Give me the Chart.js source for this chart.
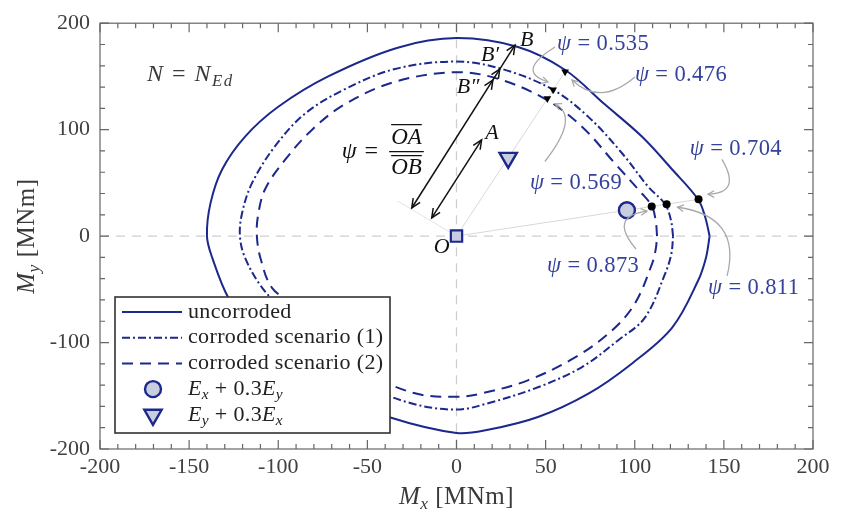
<!DOCTYPE html>
<html>
<head>
<meta charset="utf-8">
<script src="https://cdn.jsdelivr.net/npm/chart.js@4.4.0/dist/chart.umd.min.js"></script>
<style>
  html, body { margin: 0; padding: 0; background: #fff; }
  canvas { display: block; }
</style>
</head>
<body>
<canvas id="chart" width="846" height="517"></canvas>
<script>
const SERIF = '"Liberation Serif", "DejaVu Serif", serif';
const BLUE = '#1b288c';
const LABEL_BLUE = '#34429a';
const MARKER_FILL = '#c9cde0';

// Interaction contours Mx-My [MNm] at N = N_Ed, anticlockwise from the +Mx axis
const uncorrodedMx = [142, 139.5, 135.5, 121, 104, 83, 61, 34.5, 0, -33, -72, -100, -118.6, -131.5, -138, -140, -137, -128, -115, -98, -75, -38, 0, 17.7, 45.7, 74, 98.5, 121, 135.5, 140, 142];
const uncorrodedMy = [0, 18, 34.6, 62.6, 93.5, 124, 156, 177.6, 186, 177, 150, 121.5, 93.5, 62.6, 31, 0, -20.5, -58, -88, -118, -145, -170, -185, -182, -170, -148, -119.6, -86, -42, -20, 0];

const scenario1Mx = [121.5, 120.3, 117, 107.4, 93, 74, 53.6, 25.5, 0, -34.5, -62.6, -85, -102, -114.8, -120.3, -121.5, -118.6, -109, -93, -74, -53.6, -25.5, 0, 17.7, 45.7, 70.4, 90.6, 105.7, 117, 120.5, 121.5];
const scenario1My = [0, 15, 30, 46.7, 77.6, 112, 138, 157, 164, 157, 138, 115, 84, 49.5, 21.5, 0, -20.5, -48.6, -77.6, -112, -138, -157, -163, -157, -142, -123, -98, -76.6, -35.5, -17, 0];

const scenario2Mx = [112.5, 111.8, 109.7, 104, 89, 70.4, 49.6, 23.3, 0, -34.5, -62.6, -81, -96, -107.4, -111.4, -112, -110, -103.5, -89, -70.4, -49.6, -23.3, 0, 14.3, 40, 66.5, 87, 100, 109.7, 111.8, 112.5];
const scenario2My = [0, 14, 28, 40, 68, 102.8, 129, 147.7, 154, 145, 124, 100, 72, 44, 18.7, 0, -20.5, -48.6, -68, -102.8, -129, -147.7, -151, -147.7, -135.5, -114, -89, -63.6, -26, -12, 0];

// Seismic load combinations (point A)
const loadMx = [95.6, 29];
const loadMy = [24.3, 73.5];

// psi = OA/OB for: uncorroded, scenario (1), scenario (2)
const psiLoad1 = [0.704, 0.811, 0.873];
const psiLoad2 = [0.476, 0.535, 0.569];

const xTicks = { min: -200, max: 200, step: 50, minor: 10 };
const yTicks = { min: -200, max: 200, step: 100, minor: 20 };

const toXY = (xs, ys) => xs.map((x, i) => ({ x, y: ys[i] }));
// point B on each contour, along the ray O-A
const onContour = (i, psis) => psis.map(p => ({ x: loadMx[i] / p, y: loadMy[i] / p }));

const hitsLoad1 = onContour(0, psiLoad1);
const hitsLoad2 = onContour(1, psiLoad2);

// annotation placement, in MNm
const psiLabelPos = [
  { at: [130.9, 81.3], val: psiLoad1[0] },
  { at: [141.1, -48.6], val: psiLoad1[1] },
  { at: [50.8, -28], val: psiLoad1[2] },
  { at: [100.1, 151.4], val: psiLoad2[0] },
  { at: [56.4, 180.4], val: psiLoad2[1] },
  { at: [41.2, 49.5], val: psiLoad2[2] }
];
const leaders = [
  [[148.9, 72], [160.2, 40.2], [141.1, 39.3]],
  [[151.8, -37.4], [160.2, 18.7], [124, 27.1]],
  [[100.7, -12.1], [85, 18.7], [106.9, 23.4]],
  [[100.1, 149.5], [80.5, 121.5], [64.8, 146.7]],
  [[55.3, 177.6], [32.8, 154.2], [51.3, 144.9]],
  [[49.6, 70.1], [69.3, 112.1], [55.3, 124.3]]
];
const arrowOB = { from: [-25.1, 26.4], to: [32.8, 179.4], inner: [0.853, 0.786] };
const arrowOA = { from: [-13.9, 17.1], to: [14.1, 90.4] };

const datasets = [
  { label: 'uncorroded', data: toXY(uncorrodedMx, uncorrodedMy), borderColor: BLUE, borderWidth: 2, tension: 0.35, order: 5 },
  { label: 'corroded scenario (1)', data: toXY(scenario1Mx, scenario1My), borderColor: BLUE, borderWidth: 2, borderDash: [8, 3, 2, 3], tension: 0.35, order: 5 },
  { label: 'corroded scenario (2)', data: toXY(scenario2Mx, scenario2My), borderColor: BLUE, borderWidth: 2, borderDash: [11, 7], tension: 0.35, order: 5 },
  { label: 'ray 1', data: [{ x: 0, y: 0 }, hitsLoad1[0]], borderColor: '#d8d8d8', borderWidth: 1, order: 9 },
  { label: 'ray 2', data: [{ x: 0, y: 0 }, hitsLoad2[0]], borderColor: '#d8d8d8', borderWidth: 1, order: 9 },
  { label: 'B1', data: hitsLoad1, showLine: false, pointRadius: 4, pointBackgroundColor: '#000', pointBorderWidth: 0, order: 1 },
  { label: 'B2', data: hitsLoad2, showLine: false, pointStyle: 'triangle', pointRotation: 180, pointRadius: 4.5, pointBackgroundColor: '#000', pointBorderWidth: 0, order: 1 },
  { label: 'O', data: [{ x: 0, y: 0 }], showLine: false, pointStyle: 'rect', pointRadius: 8, pointBackgroundColor: MARKER_FILL, pointBorderColor: BLUE, pointBorderWidth: 2.2, order: 0 },
  { label: 'E_x + 0.3E_y', data: [{ x: loadMx[0], y: loadMy[0] }], showLine: false, pointStyle: 'circle', pointRadius: 8, pointBackgroundColor: MARKER_FILL, pointBorderColor: BLUE, pointBorderWidth: 2.4, order: 0 },
  { label: 'E_y + 0.3E_x', data: [{ x: loadMx[1], y: loadMy[1] }], showLine: false, pointStyle: 'triangle', pointRotation: 180, pointRadius: 10, pointBackgroundColor: MARKER_FILL, pointBorderColor: BLUE, pointBorderWidth: 2.4, order: 0 }
];
datasets.forEach(d => {
  d.showLine = d.showLine !== false;
  if (d.pointRadius === undefined) d.pointRadius = 0;
  d.fill = false;
});

// rich text: parts = [{ t, it, sub }]
function fontOf(p, size) {
  return (p.it ? 'italic ' : '') + (p.sub ? size * 0.7 : size) + 'px ' + SERIF;
}
function richWidth(ctx, parts, size) {
  return parts.reduce((s, p) => { ctx.font = fontOf(p, size); return s + ctx.measureText(p.t).width; }, 0);
}
function drawRich(ctx, parts, x, y, size, align, color, spacing) {
  ctx.letterSpacing = (spacing || 0) + 'px';
  const total = richWidth(ctx, parts, size);
  let cx = align === 'center' ? x - total / 2 : (align === 'right' ? x - total : x);
  ctx.fillStyle = color;
  ctx.textAlign = 'left';
  ctx.textBaseline = 'middle';
  parts.forEach(p => {
    ctx.font = fontOf(p, size);
    ctx.fillText(p.t, cx, y + (p.sub ? size * 0.28 : 0));
    cx += ctx.measureText(p.t).width;
  });
  ctx.letterSpacing = '0px';
  return total;
}

function arrowHead(ctx, x, y, ang, len, spread) {
  ctx.beginPath();
  ctx.moveTo(x - len * Math.cos(ang - spread), y - len * Math.sin(ang - spread));
  ctx.lineTo(x, y);
  ctx.lineTo(x - len * Math.cos(ang + spread), y - len * Math.sin(ang + spread));
  ctx.stroke();
}

const annotations = {
  id: 'annotations',
  beforeDatasetsDraw(chart) {
    const { ctx, chartArea: a, scales: { x, y } } = chart;
    ctx.save();
    ctx.strokeStyle = '#cfcfcf';
    ctx.lineWidth = 1.3;
    ctx.setLineDash([9, 7]);
    ctx.beginPath();
    ctx.moveTo(a.left, y.getPixelForValue(0));
    ctx.lineTo(a.right, y.getPixelForValue(0));
    ctx.moveTo(x.getPixelForValue(0), a.top);
    ctx.lineTo(x.getPixelForValue(0), a.bottom);
    ctx.stroke();
    ctx.setLineDash([]);
    // construction line through the arrow tails
    ctx.strokeStyle = '#e4e4e4';
    ctx.lineWidth = 1;
    ctx.beginPath();
    ctx.moveTo(x.getPixelForValue(-33), y.getPixelForValue(33));
    ctx.lineTo(x.getPixelForValue(0), y.getPixelForValue(0));
    ctx.stroke();
    ctx.restore();
  },
  afterDatasetsDraw(chart) {
    const { ctx, chartArea: a, scales: { x, y } } = chart;
    const P = (p) => [x.getPixelForValue(p[0]), y.getPixelForValue(p[1])];
    ctx.save();

    // gray leaders from the psi labels
    ctx.strokeStyle = '#a9a9a9';
    ctx.lineWidth = 1.3;
    leaders.forEach(([s, c, e]) => {
      const [sx, sy] = P(s), [cx, cy] = P(c), [ex, ey] = P(e);
      ctx.beginPath();
      ctx.moveTo(sx, sy);
      ctx.quadraticCurveTo(cx, cy, ex, ey);
      ctx.stroke();
      arrowHead(ctx, ex, ey, Math.atan2(ey - cy, ex - cx), 7, 0.5);
    });

    // psi labels
    psiLabelPos.forEach(l => {
      const [lx, ly] = P(l.at);
      drawRich(ctx, [{ t: 'ψ', it: true }, { t: ' = ' }, { t: l.val.toFixed(3) }], lx, ly, 22.5, 'left', LABEL_BLUE, 0.4);
    });

    // OB and OA dimension arrows
    ctx.strokeStyle = '#111';
    ctx.lineWidth = 1.5;
    [arrowOB, arrowOA].forEach(ar => {
      const [x0, y0] = P(ar.from), [x1, y1] = P(ar.to);
      const ang = Math.atan2(y1 - y0, x1 - x0);
      ctx.beginPath();
      ctx.moveTo(x0, y0);
      ctx.lineTo(x1, y1);
      ctx.stroke();
      arrowHead(ctx, x1, y1, ang, 10, 0.42);
      arrowHead(ctx, x0, y0, ang + Math.PI, 10, 0.42);
      (ar.inner || []).forEach(t => arrowHead(ctx, x0 + (x1 - x0) * t, y0 + (y1 - y0) * t, ang, 10, 0.42));
    });

    // point names
    const names = [
      [[{ t: 'B', it: true }], [39.4, 184.4]],
      [[{ t: 'B′', it: true }], [18.8, 170]],
      [[{ t: 'B″', it: true }], [6.5, 140.2]],
      [[{ t: 'A', it: true }], [19.9, 96.3]],
      [[{ t: 'O', it: true }], [-8.3, -10.9]]
    ];
    names.forEach(([parts, at]) => {
      const [nx, ny] = P(at);
      drawRich(ctx, parts, nx, ny, 22, 'center', '#111');
    });

    // N = N_Ed
    const [nx, ny] = P([-173.6, 151.4]);
    drawRich(ctx, [{ t: 'N', it: true }, { t: ' = ' }, { t: 'N', it: true }, { t: 'Ed', it: true, sub: true }], nx, ny, 24, 'left', '#3a3a3a', 1.5);

    // psi = OA / OB
    const [fx, fy] = P([-64.4, 79.4]);
    let cx = fx + drawRich(ctx, [{ t: 'ψ', it: true }, { t: ' = ' }], fx, fy, 24, 'left', '#111', 1) + 3;
    ctx.font = 'italic 23px ' + SERIF;
    const wNum = ctx.measureText('OA').width, wDen = ctx.measureText('OB').width;
    const bw = Math.max(wNum, wDen) + 4;
    ctx.strokeStyle = '#111';
    ctx.lineWidth = 1.2;
    ctx.beginPath();
    ctx.moveTo(cx, fy); ctx.lineTo(cx + bw, fy);
    ctx.moveTo(cx + 2, fy - 27); ctx.lineTo(cx + bw - 2, fy - 27);
    ctx.moveTo(cx + 2, fy + 4); ctx.lineTo(cx + bw - 2, fy + 4);
    ctx.stroke();
    ctx.fillStyle = '#111';
    ctx.textAlign = 'center';
    ctx.textBaseline = 'middle';
    ctx.fillText('OA', cx + bw / 2, fy - 14);
    ctx.fillText('OB', cx + bw / 2, fy + 16);

    // frame with inward ticks on all four sides
    ctx.strokeStyle = '#666';
    ctx.lineWidth = 1.2;
    ctx.strokeRect(a.left, a.top, a.right - a.left, a.bottom - a.top);
    ctx.beginPath();
    for (let v = xTicks.min; v <= xTicks.max; v += xTicks.minor) {
      const px = x.getPixelForValue(v);
      const len = v % xTicks.step === 0 ? 9 : 5;
      ctx.moveTo(px, a.bottom); ctx.lineTo(px, a.bottom - len);
      ctx.moveTo(px, a.top); ctx.lineTo(px, a.top + len);
    }
    for (let v = yTicks.min; v <= yTicks.max; v += yTicks.minor) {
      const py = y.getPixelForValue(v);
      const len = v % yTicks.step === 0 ? 9 : 5;
      ctx.moveTo(a.left, py); ctx.lineTo(a.left + len, py);
      ctx.moveTo(a.right, py); ctx.lineTo(a.right - len, py);
    }
    ctx.stroke();
    ctx.restore();
  },
  afterDraw(chart) {
    const { ctx, chartArea: a } = chart;
    ctx.save();

    // axis titles
    const mid = (a.left + a.right) / 2;
    drawRich(ctx, [{ t: 'M', it: true }, { t: 'x', it: true, sub: true }, { t: ' [MNm]' }], mid, 497, 25, 'center', '#3a3a3a', 0.5);
    ctx.save();
    ctx.translate(27, (a.top + a.bottom) / 2);
    ctx.rotate(-Math.PI / 2);
    drawRich(ctx, [{ t: 'M', it: true }, { t: 'y', it: true, sub: true }, { t: ' [MNm]' }], 0, 0, 25, 'center', '#3a3a3a', 0.5);
    ctx.restore();

    // legend box
    const bx = a.left + 15, by = a.bottom - 152, bw = 275, bh = 136;
    ctx.fillStyle = '#fff';
    ctx.fillRect(bx, by, bw, bh);
    ctx.strokeStyle = '#333';
    ctx.lineWidth = 1.6;
    ctx.strokeRect(bx, by, bw, bh);

    const rows = [
      { ds: 0, text: [{ t: 'uncorroded' }] },
      { ds: 1, text: [{ t: 'corroded scenario (1)' }] },
      { ds: 2, text: [{ t: 'corroded scenario (2)' }] },
      { ds: 8, text: [{ t: 'E', it: true }, { t: 'x', it: true, sub: true }, { t: ' + 0.3' }, { t: 'E', it: true }, { t: 'y', it: true, sub: true }] },
      { ds: 9, text: [{ t: 'E', it: true }, { t: 'y', it: true, sub: true }, { t: ' + 0.3' }, { t: 'E', it: true }, { t: 'x', it: true, sub: true }] }
    ];
    rows.forEach((r, i) => {
      const ry = by + 15 + i * 25.7;
      const d = chart.data.datasets[r.ds];
      if (d.pointStyle) {
        ctx.fillStyle = d.pointBackgroundColor;
        ctx.strokeStyle = d.pointBorderColor;
        ctx.lineWidth = d.pointBorderWidth;
        Chart.helpers.drawPoint(ctx, { pointStyle: d.pointStyle, radius: d.pointRadius, rotation: d.pointRotation || 0, borderWidth: d.pointBorderWidth }, bx + 38, ry);
      } else {
        ctx.strokeStyle = d.borderColor;
        ctx.lineWidth = d.borderWidth;
        ctx.setLineDash(d.borderDash || []);
        ctx.beginPath();
        ctx.moveTo(bx + 7, ry);
        ctx.lineTo(bx + 67, ry);
        ctx.stroke();
        ctx.setLineDash([]);
      }
      drawRich(ctx, r.text, bx + 73, ry, 22, 'left', '#222', 0.35);
    });
    ctx.restore();
  }
};

new Chart(document.getElementById('chart'), {
  type: 'scatter',
  data: { datasets },
  options: {
    responsive: false,
    devicePixelRatio: 1,
    animation: false,
    events: [],
    layout: { padding: { top: 21, right: 33, left: 0, bottom: 0 } },
    plugins: { legend: { display: false }, tooltip: { enabled: false } },
    scales: {
      x: {
        type: 'linear', min: xTicks.min, max: xTicks.max,
        grid: { display: false, drawTicks: false },
        border: { display: false },
        ticks: { stepSize: xTicks.step, maxRotation: 0, padding: 5, color: '#404040', font: { family: SERIF, size: 22 } },
        afterFit(s) { s.height = 68; }
      },
      y: {
        type: 'linear', min: yTicks.min, max: yTicks.max,
        grid: { display: false, drawTicks: false },
        border: { display: false },
        ticks: { stepSize: yTicks.step, padding: 10, color: '#404040', font: { family: SERIF, size: 22 } },
        afterFit(s) { s.width = 100; }
      }
    }
  },
  plugins: [annotations]
});
</script>
</body>
</html>
